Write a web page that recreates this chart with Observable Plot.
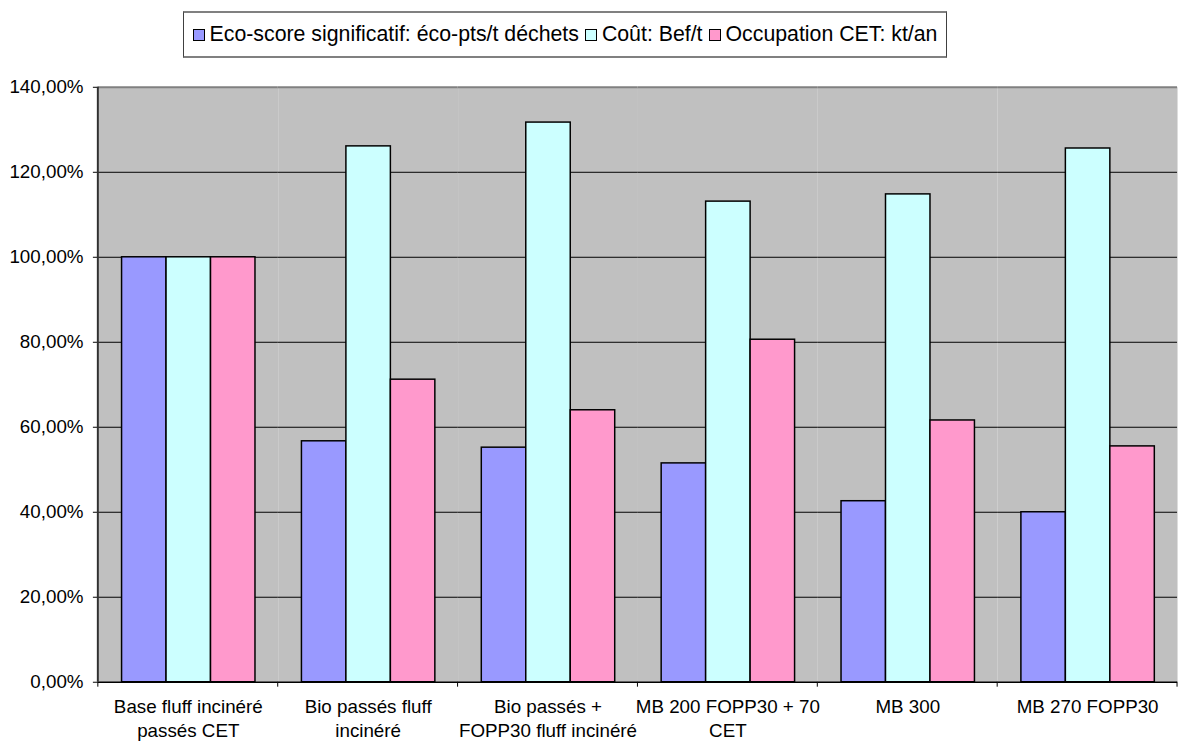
<!DOCTYPE html>
<html>
<head>
<meta charset="utf-8">
<script src="https://cdn.jsdelivr.net/npm/d3@7"></script>
<script src="https://cdn.jsdelivr.net/npm/@observablehq/plot@0.6"></script>
<style>
  html, body { margin: 0; padding: 0; background: #fff; overflow: hidden; }
  body { font-family: "Liberation Sans", Arial, sans-serif; width: 1181px; height: 742px; }
  #legendRow { position: relative; height: 70px; }
  #legend {
    position: absolute; top: 11px; left: 183px; height: 47px; width: 764px;
    border: 1px solid #404040; border-top: 2px solid #808080; border-bottom: 2px solid #808080; box-sizing: border-box;
    display: flex; align-items: center; justify-content: center;
    font-size: 21.3px; color: #000; white-space: nowrap;
  }
  .item { display: flex; align-items: center; margin: 0 3px; }
  .sw { width: 12px; height: 12px; border: 1px solid #000; margin-right: 5px; box-sizing: border-box; }
  #chart svg { display: block; }
</style>
</head>
<body>
<div id="legendRow"><div id="legend"></div></div>
<div id="chart"></div>
<script>
const categories = [
  "Base fluff incinéré\npassés CET",
  "Bio passés fluff\nincinéré",
  "Bio passés +\nFOPP30 fluff incinéré",
  "MB 200 FOPP30 + 70\nCET",
  "MB 300",
  "MB 270 FOPP30"
];
const series = [
  "Eco-score significatif: éco-pts/t déchets",
  "Coût: Bef/t",
  "Occupation CET: kt/an"
];
const ecoScore   = [100, 56.7, 55.2, 51.5, 42.6, 40.0];
const cout       = [100, 126.1, 131.7, 113.1, 114.8, 125.6];
const occupation = [100, 71.2, 64.0, 80.6, 61.6, 55.5];
const yTicks = [0, 20, 40, 60, 80, 100, 120, 140];
const colors = ["#9999FF", "#CCFFFF", "#FF99CC"];

const values = [ecoScore, cout, occupation];
const data = [];
categories.forEach((c, i) => series.forEach((s, j) => data.push({category: c, series: s, value: values[j][i]})));

// legend
const legend = document.getElementById("legend");
series.forEach((s, j) => {
  const it = document.createElement("div");
  it.className = "item";
  const sw = document.createElement("div");
  sw.className = "sw";
  sw.style.background = colors[j];
  const t = document.createElement("span");
  t.textContent = s;
  it.appendChild(sw); it.appendChild(t);
  legend.appendChild(it);
});

const fmt = v => v.toFixed(2).replace(".", ",") + "%";
const font = '"Liberation Sans", Arial, sans-serif';

const chart = Plot.plot({
  width: 1195,
  height: 672,
  marginLeft: 98,
  marginRight: 3,
  marginTop: 17,
  marginBottom: 53,
  style: {fontFamily: font, fontSize: "19px", color: "#000", background: "transparent", overflow: "visible"},
  fx: {domain: categories, padding: 0, axis: null},
  x: {domain: series, paddingInner: 0, paddingOuter: 0.5, axis: null},
  y: {domain: [0, 140], axis: null},
  color: {domain: series, range: colors},
  marks: [
    Plot.frame({fill: "#C0C0C0", stroke: null}),
    Plot.ruleY(yTicks.filter(t => t > 0 && t < 140), {stroke: "#000", strokeWidth: 1}),
    Plot.ruleY([140], {stroke: "#808080", strokeWidth: 2}),
    Plot.barY(data, {fx: "category", x: "series", y: "value", fill: "series", stroke: "#000", strokeWidth: 1.5}),
    Plot.ruleY([0], {stroke: "#000", strokeWidth: 1.5}),
    Plot.axisY({ticks: yTicks, tickFormat: fmt, tickSize: 5, tickPadding: 10, stroke: "#000", fontSize: 19, label: null}),
    Plot.axisFx({anchor: "bottom", tickSize: 0, tickPadding: 14, fontSize: 19, lineHeight: 1.27, label: null, textOverflow: null, lineWidth: 100})
  ]
});
document.getElementById("chart").appendChild(chart);

// left axis line and category boundary ticks, positioned from Plot's own fx / y scales
const fxS = chart.scale("fx");
const yS = chart.scale("y");
const svg = d3.select(chart);
const y0 = yS.apply(0), yTop = yS.apply(140);
const left = fxS.apply(categories[0]);
svg.append("line").attr("x1", left).attr("x2", left).attr("y1", yTop).attr("y2", y0)
  .attr("stroke", "#303030").attr("stroke-width", 2);
const bounds = categories.map(c => fxS.apply(c)).concat([fxS.apply(categories[categories.length - 1]) + fxS.bandwidth]);
bounds.forEach(b => {
  svg.append("line").attr("x1", b).attr("x2", b).attr("y1", y0).attr("y2", y0 + 5)
    .attr("stroke", "#000").attr("stroke-width", 1);
});
</script>
</body>
</html>
